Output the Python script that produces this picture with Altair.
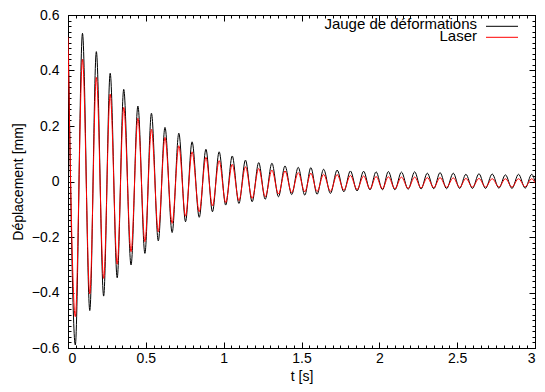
import altair as alt
import pandas as pd

# ---- data ----
series_names = ["Jauge de déformations", "Laser"]
series_colors = ["#000000", "#ff0000"]

edge_t = [0.0, 3.0]
edge_gauge = [0.58, 0.0]
edge_laser = [0.52, -0.005]

peak_t = [0.093, 0.182, 0.271, 0.358, 0.449, 0.536, 0.623, 0.712, 0.797, 0.886,
          0.971, 1.055, 1.14, 1.225, 1.31, 1.394, 1.479, 1.56, 1.642, 1.729,
          1.814, 1.899, 1.979, 2.058, 2.142, 2.227, 2.308, 2.39, 2.475, 2.556,
          2.64, 2.725, 2.81, 2.894, 2.979]
peak_gauge = [0.534, 0.468, 0.39, 0.332, 0.272, 0.246, 0.195, 0.174, 0.143, 0.116,
              0.107, 0.092, 0.077, 0.068, 0.066, 0.056, 0.051, 0.050, 0.044, 0.041,
              0.038, 0.037, 0.035, 0.036, 0.034, 0.035, 0.030, 0.032, 0.030, 0.026,
              0.028, 0.027, 0.024, 0.026, 0.026]
peak_laser = [0.44, 0.375, 0.315, 0.267, 0.228, 0.188, 0.159, 0.129, 0.107, 0.087,
              0.075, 0.062, 0.053, 0.047, 0.041, 0.038, 0.032, 0.030, 0.026, 0.025,
              0.022, 0.020, 0.018, 0.017, 0.016, 0.016, 0.014, 0.014, 0.013, 0.011,
              0.011, 0.010, 0.010, 0.010, 0.010]

trough_t = [0.047, 0.14, 0.229, 0.316, 0.405, 0.494, 0.58, 0.669, 0.755, 0.843,
            0.928, 1.013, 1.098, 1.183, 1.267, 1.352, 1.437, 1.521, 1.60, 1.686,
            1.772, 1.857, 1.94, 2.02, 2.10, 2.185, 2.268, 2.35, 2.432, 2.516,
            2.598, 2.682, 2.768, 2.852, 2.937]
trough_gauge = [-0.589, -0.465, -0.413, -0.347, -0.301, -0.259, -0.214, -0.184, -0.145, -0.129,
                -0.109, -0.085, -0.079, -0.073, -0.064, -0.055, -0.047, -0.049, -0.046, -0.043,
                -0.037, -0.034, -0.030, -0.030, -0.030, -0.028, -0.027, -0.026, -0.026, -0.025,
                -0.025, -0.025, -0.024, -0.025, -0.024]
trough_laser = [-0.487, -0.405, -0.349, -0.298, -0.253, -0.217, -0.181, -0.151, -0.125, -0.109,
                -0.088, -0.076, -0.069, -0.061, -0.055, -0.045, -0.040, -0.037, -0.036, -0.035,
                -0.031, -0.029, -0.027, -0.026, -0.026, -0.025, -0.023, -0.022, -0.021, -0.021,
                -0.020, -0.020, -0.020, -0.020, -0.019]

x_major = [0, 0.5, 1, 1.5, 2, 2.5, 3]
y_major = [-0.6, -0.4, -0.2, 0, 0.2, 0.4, 0.6]
x_minor = [round(i * 0.05, 3) for i in range(61)]
y_minor = [round(-0.6 + i * 0.02, 3) for i in range(61)]

# ---- table ----
df = pd.DataFrame({
    "t": edge_t + peak_t + trough_t,
    "gauge": edge_gauge + peak_gauge + trough_gauge,
    "laser": edge_laser + peak_laser + trough_laser,
}).sort_values("t")
long = df.melt(id_vars="t", value_vars=["gauge", "laser"], var_name="key", value_name="v")
long["serie"] = long["key"].map({"gauge": series_names[0], "laser": series_names[1]})

W, H = 467, 333
FONT = "Liberation Sans"
xscale = alt.Scale(domain=[0, 3], nice=False, zero=False)
yscale = alt.Scale(domain=[-0.6, 0.6], nice=False, zero=False)


def tick_axis(orient, offset, values, size):
    return alt.Axis(orient=orient, offset=offset, values=values, labels=False,
                    domain=False, grid=False, ticks=True, tickSize=size,
                    tickColor="black", tickWidth=1, title=None)


def layer(xaxis, yaxis, visible):
    base = alt.Chart(long)
    xenc = alt.X("t:Q", scale=xscale, axis=xaxis)
    yenc = alt.Y("v:Q", scale=yscale, axis=yaxis)
    if visible:
        return base.mark_line(interpolate="monotone", strokeWidth=1, clip=True).encode(
            x=xenc, y=yenc,
            color=alt.Color("serie:N",
                            scale=alt.Scale(domain=series_names, range=series_colors),
                            sort=series_names, legend=None),
        )
    return base.mark_line(interpolate="monotone", opacity=0).encode(
        x=xenc, y=yenc, detail="serie:N")


x_lab = alt.Axis(orient="bottom", values=x_major, format="~g", ticks=False, tickSize=0,
                 domain=False, grid=False, labelPadding=3, labelFont=FONT,
                 labelFontSize=14, labelColor="black", title="t [s]", titleFont=FONT,
                 titleFontSize=14, titleFontWeight="normal", titleColor="black",
                 titlePadding=4)
y_lab = alt.Axis(orient="left", values=y_major, format="~g", ticks=False, tickSize=0,
                 domain=False, grid=False, labelPadding=9, labelFont=FONT,
                 labelFontSize=14, labelColor="black", title="Déplacement [mm]",
                 titleFont=FONT, titleFontSize=14, titleFontWeight="normal",
                 titleColor="black", titlePadding=6)

layers = [
    layer(x_lab, y_lab, True),
    layer(tick_axis("bottom", -H, x_major, 6), tick_axis("left", -W, y_major, 6), False),
    layer(tick_axis("top", -H, x_major, 6), tick_axis("right", -W, y_major, 6), False),
    layer(tick_axis("bottom", -H, x_minor, 3), tick_axis("left", -W, y_minor, 3), False),
    layer(tick_axis("top", -H, x_minor, 3), tick_axis("right", -W, y_minor, 3), False),
]

# ---- key (gnuplot style: label on the left, line sample on the right) ----
key_text_x = 409
key_line_x = (418, 450)
key_text_y = [14, 25.7]
key_line_y = [11.3, 22.3]
for name, color, ty, ly in zip(series_names, series_colors, key_text_y, key_line_y):
    kdf = pd.DataFrame({"label": [name]})
    layers.append(
        alt.Chart(kdf).mark_text(align="right", baseline="alphabetic", font=FONT,
                                 fontSize=15, color="black").encode(
            x=alt.value(key_text_x), y=alt.value(ty), text="label:N")
    )
    layers.append(
        alt.Chart(kdf).mark_rule(color=color, strokeWidth=1).encode(
            x=alt.value(key_line_x[0]), x2=alt.value(key_line_x[1]), y=alt.value(ly))
    )

chart = alt.layer(*layers).resolve_axis(x="independent", y="independent").properties(
    width=W, height=H,
    autosize=alt.AutoSizeParams(type="none"),
    padding={"left": 60, "top": 7, "right": 2, "bottom": 44},
    background="white",
).configure_view(stroke="black", strokeWidth=1)

chart.save("out.html", embed_options={"renderer": "svg", "actions": False})
